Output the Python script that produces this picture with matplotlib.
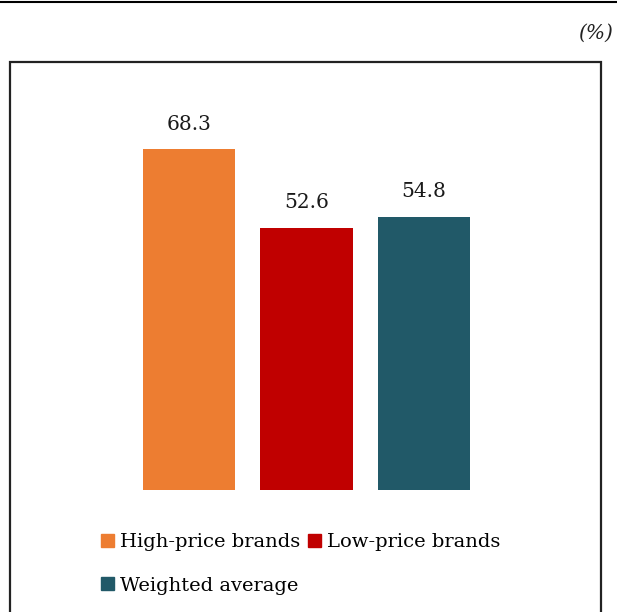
import matplotlib.pyplot as plt
from matplotlib.patches import Rectangle
from matplotlib.lines import Line2D

# Data
categories = ["High-price brands", "Low-price brands", "Weighted average"]
values = [68.3, 52.6, 54.8]
colors = ["#ED7D31", "#C00000", "#215968"]

W, H = 617, 612
fig = plt.figure(figsize=(W / 100, H / 100), dpi=100)
plt.rcParams['font.family'] = ['DejaVu Serif']

# top rule and frame box (drawn in figure coords)
fig.add_artist(Line2D([0, 1], [1 - 1.5 / H, 1 - 1.5 / H], color="black", lw=1.5))
fig.add_artist(Rectangle((10 / W, -0.05), 591 / W, 0.05 + (H - 62) / H,
                         fill=False, edgecolor="#222222", lw=1.6))
fig.text(613 / W, 1 - 33 / H, "(%)", ha="right", va="center",
         fontsize=14.5, style="italic", color="#222222")

# axes: y=0 at pixel 490, top at pixel 62
ax = fig.add_axes([10 / W, 1 - 490 / H, 591 / W, (490 - 62) / H])
x = range(len(categories))
bars = ax.bar(x, values, width=0.79, color=colors)
ax.set_xlim(-1.523, 3.506)
ax.set_ylim(0, (490 - 62) / 4.99)
ax.axis("off")

for b, v in zip(bars, values):
    ax.annotate(f"{v:.1f}", (b.get_x() + b.get_width() / 2, v),
                xytext=(0, 18), textcoords="offset points",
                ha="center", va="center", fontsize=14.5, color="#1a1a1a")

# legend: order so rows read High, Low / Weighted
order = [0, 2, 1]
handles = [Rectangle((0, 0), 1, 1, color=colors[i]) for i in order]
labels = [categories[i] for i in order]
fig.legend(handles, labels, ncol=2, loc="upper left",
           bbox_to_anchor=(101 / W, 1 - 533 / H), frameon=False,
           fontsize=14, handlelength=0.67, handleheight=0.67,
           handletextpad=0.3, columnspacing=0.4, labelspacing=1.32,
           borderaxespad=0, borderpad=0)

fig.savefig("out.png", dpi=100)
